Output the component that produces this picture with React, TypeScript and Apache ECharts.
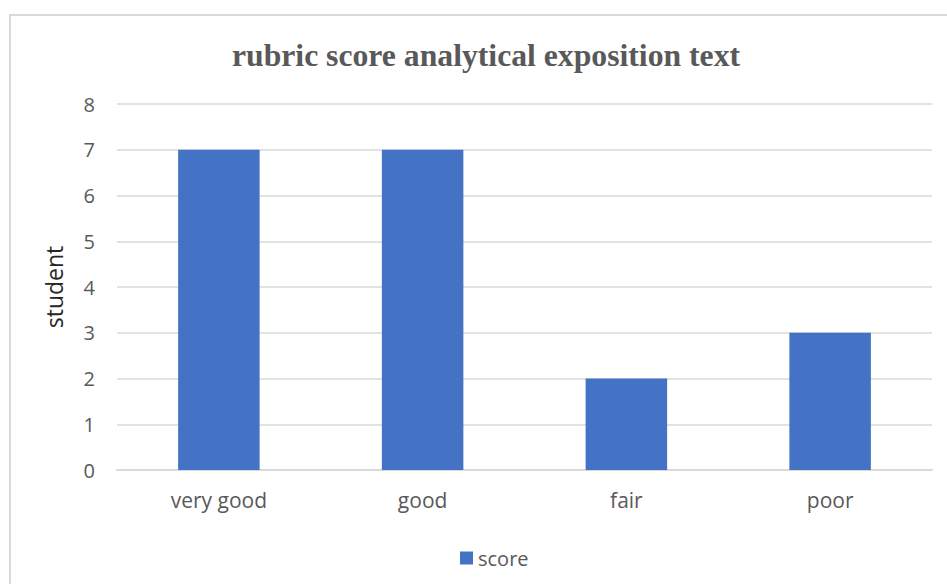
import React, { useEffect, useRef } from "react";
import * as echarts from "echarts";

const categories = ["very good", "good", "fair", "poor"];
const scoreValues = [7, 7, 2, 3];
const yTicks = { min: 0, max: 8, interval: 1 };

export default function App() {
  const ref = useRef<HTMLDivElement>(null);
  useEffect(() => {
    if (!ref.current) return;
    const chart = echarts.init(ref.current, null, { renderer: "svg" });
    chart.setOption({
      animation: false,
      backgroundColor: "#ffffff",
      title: {
        text: "rubric score analytical exposition text",
        left: 481,
        top: 34,
        textAlign: "center",
        textStyle: {
          fontFamily: "Liberation Serif",
          fontWeight: "bold",
          fontSize: 31.7,
          color: "#595959",
        },
      },
      graphic: [
        {
          type: "rect",
          shape: { x: 10, y: 15, width: 980, height: 620 },
          style: { fill: "none", stroke: "#d9d9d9", lineWidth: 2 },
          silent: true,
          z: -1,
        },
      ],
      grid: { left: 117, right: 15, top: 104, bottom: 114 },
      legend: {
        data: ["score"],
        left: 455,
        top: 543,
        itemWidth: 13,
        itemHeight: 13,
        itemGap: 6,
        icon: "rect",
        textStyle: { fontFamily: "Open Sans", fontSize: 20, color: "#595959" },
      },
      xAxis: {
        type: "category",
        data: categories,
        axisLine: { show: true, lineStyle: { color: "#d9d9d9", width: 2 } },
        axisTick: { show: false },
        axisLabel: {
          fontFamily: "Open Sans",
          fontSize: 21,
          color: "#595959",
          margin: 19,
        },
      },
      yAxis: {
        type: "value",
        min: yTicks.min,
        max: yTicks.max,
        interval: yTicks.interval,
        name: "student",
        nameLocation: "middle",
        nameRotate: 90,
        nameGap: 52,
        nameTextStyle: { fontFamily: "Open Sans", fontSize: 23, color: "#262626" },
        axisLine: { show: false },
        axisTick: { show: false },
        splitLine: { lineStyle: { color: "#d9d9d9", width: 1.5 } },
        axisLabel: {
          fontFamily: "Open Sans",
          fontSize: 20,
          color: "#595959",
          margin: 22,
        },
      },
      series: [
        {
          name: "score",
          type: "bar",
          data: scoreValues,
          barWidth: "40%",
          itemStyle: { color: "#4472C4" },
        },
      ],
    });
    return () => chart.dispose();
  }, []);
  return (
    <div
      ref={ref}
      style={{ position: "fixed", left: 0, top: 0, width: 947, height: 584 }}
    />
  );
}
